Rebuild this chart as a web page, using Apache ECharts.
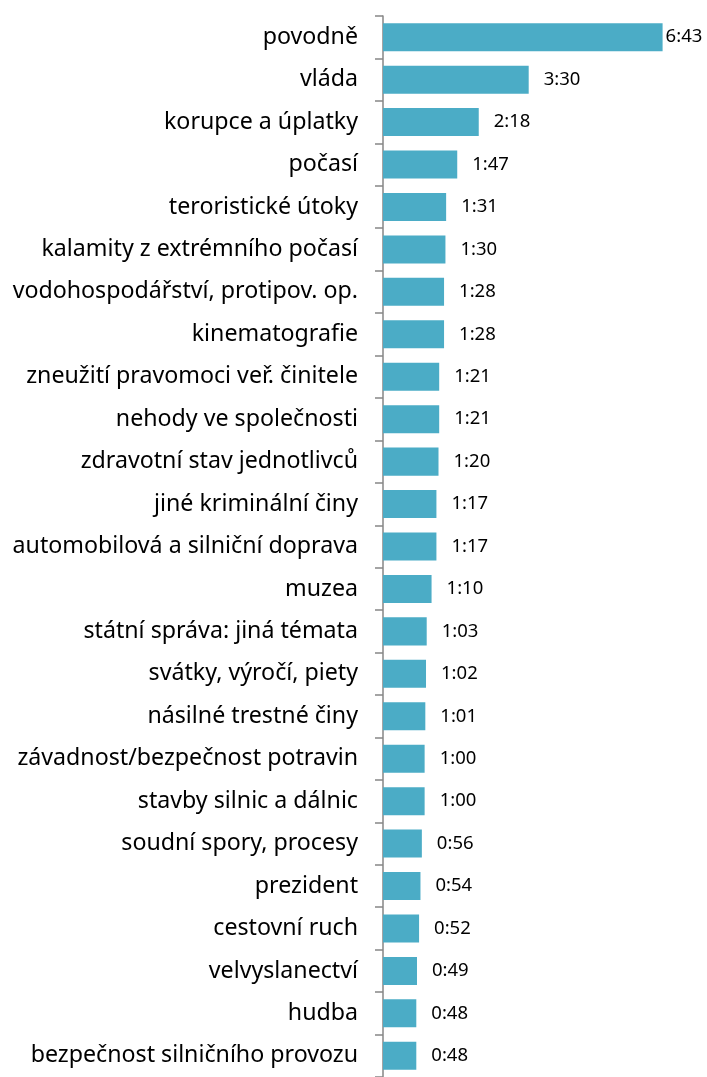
<!DOCTYPE html>
<html>
<head>
<meta charset="utf-8">
<script src="https://cdn.jsdelivr.net/npm/echarts@6/dist/echarts.min.js"></script>
<style>
  html, body { margin: 0; padding: 0; background: #fff; }
  #chart { width: 707px; height: 1077px; }
</style>
</head>
<body>
<div id="chart"></div>
<script>
// témata a délka v sekundách
var categories = ['povodně', 'vláda', 'korupce a úplatky', 'počasí', 'teroristické útoky',
  'kalamity z extrémního počasí', 'vodohospodářství, protipov. op.', 'kinematografie',
  'zneužití pravomoci veř. činitele', 'nehody ve společnosti', 'zdravotní stav jednotlivců',
  'jiné kriminální činy', 'automobilová a silniční doprava', 'muzea', 'státní správa: jiná témata',
  'svátky, výročí, piety', 'násilné trestné činy', 'závadnost/bezpečnost potravin',
  'stavby silnic a dálnic', 'soudní spory, procesy', 'prezident', 'cestovní ruch',
  'velvyslanectví', 'hudba', 'bezpečnost silničního provozu']
var seconds = [403, 210, 138, 107, 91, 90, 88, 88, 81, 81, 80, 77, 77, 70, 63, 62, 61, 60, 60,
  56, 54, 52, 49, 48, 48]

function fmt(s) {
  var m = Math.floor(s / 60)
  var r = s % 60
  return m + ':' + (r < 10 ? '0' + r : r)
}

var chart = echarts.init(document.getElementById('chart'), null, { renderer: 'canvas' })

var seriesData = seconds.map(function (v, i) {
  // nejdelší sloupec má popisek hned u konce
  if (i === 0) return { value: v, label: { distance: 3 } }
  return v
})

var option = {
  animation: false,
  grid: { left: 383, right: 0, top: 16, bottom: -3, containLabel: false },
  xAxis: {
    type: 'value',
    min: 0,
    max: 467,
    show: false
  },
  yAxis: {
    type: 'category',
    data: categories,
    inverse: true,
    axisLine: { show: true, lineStyle: { color: '#868686', width: 1.5 } },
    axisTick: { show: true, length: 8, lineStyle: { color: '#868686', width: 1.5 } },
    axisLabel: {
      color: '#000',
      fontFamily: 'Noto Sans',
      fontSize: 23.2,
      margin: 25
    }
  },
  series: [{
    type: 'bar',
    data: seriesData,
    barCategoryGap: '34%',
    itemStyle: { color: '#4BACC6' },
    label: {
      show: true,
      position: 'right',
      distance: 15,
      color: '#000',
      fontFamily: 'Noto Sans',
      fontSize: 18.5,
      formatter: function (p) { return fmt(p.value) }
    }
  }]
}

chart.setOption(option)
</script>
</body>
</html>
